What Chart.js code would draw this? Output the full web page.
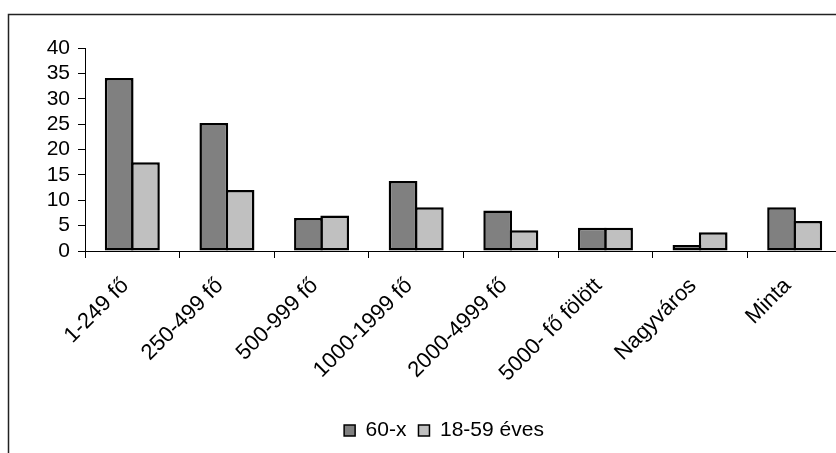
<!DOCTYPE html>
<html><head><meta charset="utf-8">
<script src="https://cdn.jsdelivr.net/npm/chart.js@4.4.0/dist/chart.umd.min.js"></script>
<style>
html,body{margin:0;padding:0;overflow:hidden;background:#fff;width:836px;height:453px}
#wrap{position:relative;width:860px;height:453px}
</style></head><body>
<div id="wrap"><canvas id="c" width="860" height="453"></canvas></div>
<script>
const categories = ['1-249 fő','250-499 fő','500-999 fő','1000-1999 fő','2000-4999 fő','5000- fő fölött','Nagyváros','Minta'];
const series60x = [34.1, 25.2, 6.5, 13.8, 8.0, 4.6, 1.2, 8.6];
const series1859 = [17.5, 12.0, 7.0, 8.6, 4.1, 4.6, 3.7, 5.9];
const seriesNames = ['60-x', '18-59 éves'];
const yMin = 0, yMax = 40, yStep = 5;

const FONT = "'Liberation Sans', Arial, sans-serif";

const framePlugin = {
  id: 'frame',
  beforeDraw(chart) {
    const ctx = chart.ctx;
    ctx.save();
    ctx.fillStyle = '#fff';
    ctx.fillRect(0, 0, chart.width, chart.height);
    ctx.strokeStyle = '#222';
    ctx.lineWidth = 1.5;
    ctx.strokeRect(8.5, 14.5, chart.width + 50, chart.height + 50);
    ctx.restore();
  }
};

const legendPlugin = {
  id: 'legendBox',
  afterLayout(chart) {
    const lg = chart.legend;
    lg.adjustHitBoxes();
    const hb = lg.legendHitBoxes;
    if (!hb || !hb.length) return;
    const l = hb[0].left, last = hb[hb.length - 1];
    const r = last.left + last.width;
    const d = 444 - (l + r) / 2;
    lg.left += d; lg.right += d;
    lg.adjustHitBoxes();
  },
  afterDraw(chart) {
    const lg = chart.legend;
    const hb = lg.legendHitBoxes;
    if (!hb || !hb.length) return;
    const last = hb[hb.length - 1];
    const ctx = chart.ctx;
    ctx.save();
    ctx.strokeStyle = '#000';
    ctx.lineWidth = 1;
    const x0 = Math.round(hb[0].left - 7) + 0.5;
    const x1 = Math.round(last.left + last.width + 10) + 0.5;
    const y0 = Math.round(hb[0].top - 10) + 0.5;
    const y1 = Math.round(hb[0].top + hb[0].height + 4) + 0.5;
    ctx.strokeRect(x0, y0, x1 - x0, y1 - y0);
    ctx.restore();
  }
};

new Chart(document.getElementById('c'), {
  type: 'bar',
  data: {
    labels: categories,
    datasets: [
      { label: seriesNames[0], data: series60x, backgroundColor: '#808080', borderColor: '#000', borderWidth: 2.5, borderSkipped: false,
        categoryPercentage: 0.555, barPercentage: 1.095 },
      { label: seriesNames[1], data: series1859, backgroundColor: '#c0c0c0', borderColor: '#000', borderWidth: 2.5, borderSkipped: false,
        categoryPercentage: 0.555, barPercentage: 1.095 }
    ]
  },
  options: {
    responsive: false,
    animation: false,
    devicePixelRatio: 1,
    layout: { padding: { left: 0, right: 18, top: 48, bottom: 2 } },
    plugins: {
      tooltip: { enabled: false },
      legend: {
        position: 'bottom',
        labels: {
          boxWidth: 11, boxHeight: 11, padding: 12, color: '#000',
          font: { family: FONT, size: 21 },
          generateLabels: (chart) => Chart.defaults.plugins.legend.labels.generateLabels(chart).map(it => ({ ...it, lineWidth: 1.5 }))
        }
      }
    },
    scales: {
      x: {
        offset: true,
        grid: { display: true, drawOnChartArea: false, offset: true, tickLength: 7, color: '#000', lineWidth: 1 },
        border: { color: '#000', width: 1 },
        ticks: { autoSkip: false, maxRotation: 45, minRotation: 45, color: '#000', padding: 15, labelOffset: -7,
          font: { family: FONT, size: 22 } },
        afterFit: (s) => { s.height = 157; }
      },
      y: {
        min: yMin, max: yMax,
        grid: { drawOnChartArea: false, tickLength: 7, color: '#000', lineWidth: 1 },
        border: { color: '#000', width: 1 },
        ticks: { stepSize: yStep, autoSkip: false, color: '#000', padding: 8, font: { family: FONT, size: 21 } },
        afterFit: (s) => { s.width = 85; }
      }
    }
  },
  plugins: [framePlugin, legendPlugin]
});
</script>
</body></html>
